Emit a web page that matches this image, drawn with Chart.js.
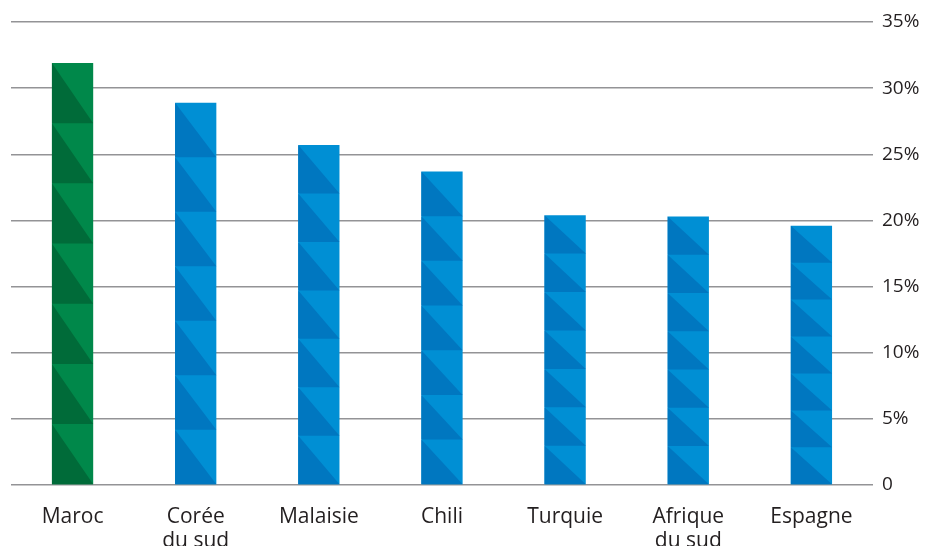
<!DOCTYPE html>
<html>
<head>
<meta charset="utf-8">
<script src="https://cdn.jsdelivr.net/npm/chart.js@4"></script>
<style>
  html, body { margin: 0; padding: 0; background: #fff; }
  #wrap { width: 925px; height: 546px; }
</style>
</head>
<body>
<div id="wrap"><canvas id="chart"></canvas></div>
<script>
// Chart data
const countries = ['Maroc', ['Corée', 'du sud'], 'Malaisie', 'Chili', 'Turquie', ['Afrique', 'du sud'], 'Espagne'];
const shares = [31.9, 28.9, 25.7, 23.7, 20.4, 20.3, 19.6];
const highlighted = [true, false, false, false, false, false, false];
const yTicks = [0, 5, 10, 15, 20, 25, 30, 35];

const LIGHT_GREEN = '#00884a';
const DARK_GREEN = '#006b39';
const LIGHT_BLUE = '#008fd4';
const DARK_BLUE = '#0077c0';
const SEGMENTS = 7;

// Draws the dark triangles on each bar, 7 equal segments per bar
const trianglePattern = {
    id: 'trianglePattern',
    afterDatasetsDraw(chart) {
        const ctx = chart.ctx;
        const meta = chart.getDatasetMeta(0);
        ctx.save();
        meta.data.forEach((bar, i) => {
            const { x, y, base, width } = bar.getProps(['x', 'y', 'base', 'width'], true);
            const left = x - width / 2;
            const right = x + width / 2;
            const segH = (base - y) / SEGMENTS;
            ctx.fillStyle = highlighted[i] ? DARK_GREEN : DARK_BLUE;
            for (let s = 0; s < SEGMENTS; s++) {
                const top = y + s * segH;
                const bottom = top + segH;
                ctx.beginPath();
                ctx.moveTo(left, top);
                ctx.lineTo(right, bottom);
                ctx.lineTo(left, bottom);
                ctx.closePath();
                ctx.fill();
            }
        });
        ctx.restore();
    }
};

new Chart(document.getElementById('chart'), {
    type: 'bar',
    data: {
        labels: countries,
        datasets: [{
            data: shares,
            backgroundColor: highlighted.map(h => h ? LIGHT_GREEN : LIGHT_BLUE),
            borderWidth: 0,
            barPercentage: 0.67,
            categoryPercentage: 0.5
        }]
    },
    options: {
        responsive: true,
        maintainAspectRatio: false,
        animation: false,
        layout: { padding: { left: 11, top: 22, right: 0, bottom: 0 } },
        plugins: {
            legend: { display: false },
            tooltip: { enabled: false }
        },
        scales: {
            x: {
                grid: { display: false },
                border: { display: false },
                afterFit(axis) { axis.height = 61; },
                ticks: {
                    color: '#231f20',
                    font: { family: 'Open Sans', size: 21, lineHeight: 1.15 },
                    padding: 12,
                    maxRotation: 0,
                    autoSkip: false
                }
            },
            y: {
                position: 'right',
                min: 0,
                max: 35,
                afterBuildTicks(axis) {
                    axis.ticks = yTicks.map(v => ({ value: v }));
                },
                afterFit(axis) { axis.width = 52; },
                grid: {
                    color: '#939396',
                    lineWidth: 1.5,
                    drawTicks: false
                },
                border: { display: false },
                ticks: {
                    color: '#231f20',
                    font: { family: 'Open Sans', size: 19 },
                    padding: 9,
                    callback: v => v === 0 ? '0' : v + '%'
                }
            }
        }
    },
    plugins: [trianglePattern]
});
</script>
</body>
</html>
